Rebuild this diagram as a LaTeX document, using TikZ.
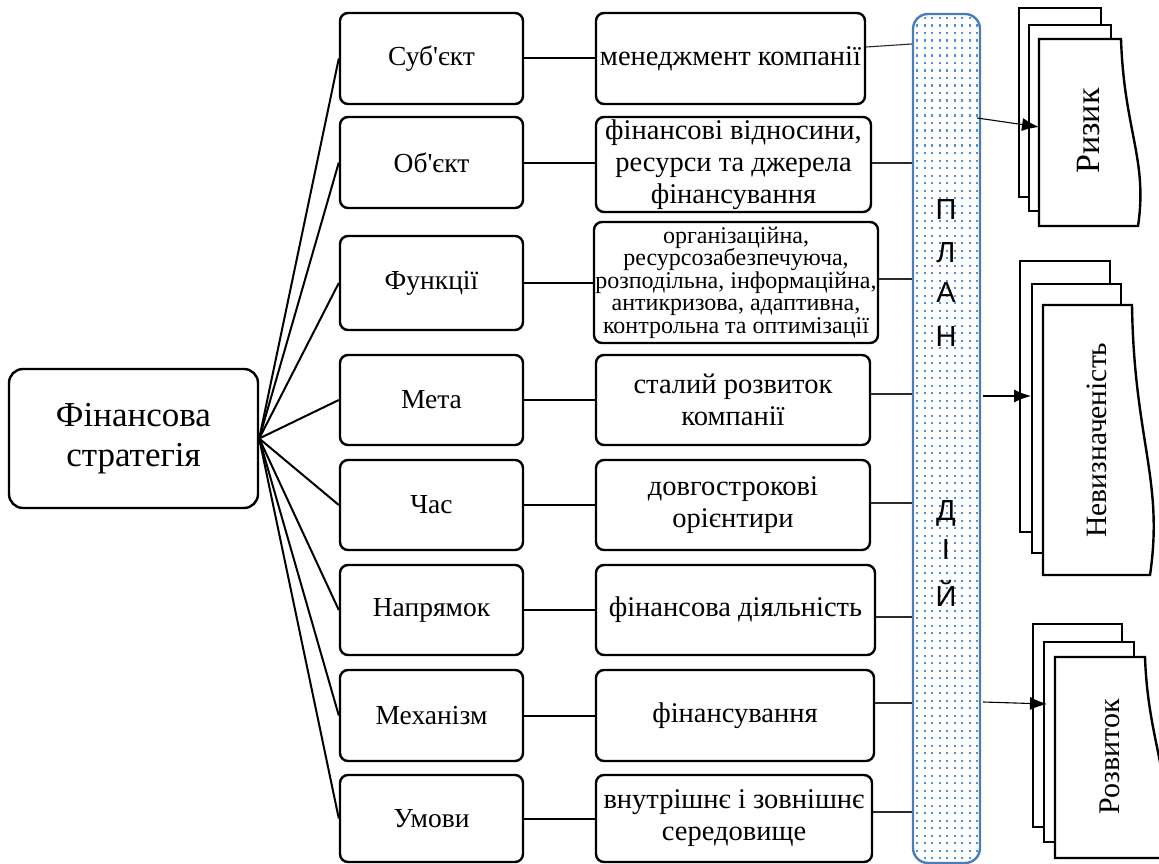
\documentclass[tikz,border=0pt]{standalone}
\usepackage{fontspec}
\setmainfont{Liberation Serif}[Ligatures=TeXOff]
\newfontfamily\plansans{Liberation Sans}
\usetikzlibrary{arrows.meta}
\definecolor{barblue}{HTML}{4A7DB5}
\definecolor{dotblue}{HTML}{4A93D8}
\definecolor{thinline}{HTML}{2A2A2A}
\begin{document}
\begin{tikzpicture}[x=1pt,y=-1pt,
  box/.style={draw, line width=2.4pt, rounded corners=8pt, align=center, inner sep=0pt, fill=white},
  lab/.style={font=\fontsize{27.5}{30}\selectfont},
  desc/.style={font=\fontsize{28.5}{32}\selectfont},
  fan/.style={line width=2pt},
  link/.style={line width=2pt},
  thin/.style={line width=1.1pt, draw=thinline},
  arr/.style={line width=1.1pt, -{Latex[length=17pt,width=13pt]}},
  page/.style={draw, line width=2.4pt, fill=white, line join=miter},
  letter/.style={font=\plansans\fontsize{29}{29}\selectfont, inner sep=0pt},
  pagetext/.style={font=\fontsize{34}{34}\selectfont, rotate=90, inner sep=0pt}
]
\useasboundingbox (0,0) rectangle (1159,864);

% main node
\node[box, rounded corners=14pt, minimum width=249pt, minimum height=139pt,
  font=\fontsize{35}{40}\selectfont] (fs) at (133.5,438.5) {Фінансова\\стратегія};

% column 2
\node[box, lab, minimum width=183pt, minimum height=91pt] (s1) at (431.5,58.5) {Суб'єкт};
\node[box, lab, minimum width=183pt, minimum height=91pt] (s2) at (431.5,162.5) {Об'єкт};
\node[box, lab, minimum width=183pt, minimum height=94pt] (s3) at (431.5,283) {Функції};
\node[box, lab, minimum width=183pt, minimum height=90pt] (s4) at (431.5,400) {Мета};
\node[box, lab, minimum width=183pt, minimum height=90pt] (s5) at (431.5,505) {Час};
\node[box, lab, minimum width=183pt, minimum height=90pt] (s6) at (431.5,610) {Напрямок};
\node[box, lab, minimum width=183pt, minimum height=91pt] (s7) at (431.5,715.5) {Механізм};
\node[box, lab, minimum width=183pt, minimum height=87pt] (s8) at (431.5,818.5) {Умови};

% column 3
\node[box, desc, minimum width=269pt, minimum height=91pt] (t1) at (730.5,58.5) {менеджмент компанії};
\node[box, desc, minimum width=275pt, minimum height=95pt] (t2) at (733.5,164.5) {фінансові відносини,\\ресурси та джерела\\фінансування};
\node[box, font=\fontsize{24}{22.5}\selectfont, minimum width=284pt, minimum height=121pt] (t3) at (736,282.5)
  {організаційна,\\ресурсозабезпечуюча,\\розподільна, інформаційна,\\антикризова, адаптивна,\\контрольна та оптимізації};
\node[box, desc, minimum width=274pt, minimum height=90pt] (t4) at (733,400) {сталий розвиток\\компанії};
\node[box, desc, minimum width=274pt, minimum height=90pt] (t5) at (733,505) {довгострокові\\орієнтири};
\node[box, desc, minimum width=279pt, minimum height=90pt] (t6) at (735.5,610) {фінансова діяльність};
\node[box, desc, minimum width=278pt, minimum height=91pt] (t7) at (735,715.5) {фінансування};
\node[box, desc, minimum width=276pt, minimum height=87pt] (t8) at (734,818.5) {внутрішнє і зовнішнє\\середовище};

% fan
\foreach \i in {1,...,8} {
  \draw[fan] (fs.east) -- (s\i.west);
  \draw[link] (s\i.east) -- (s\i.east -| t\i.west);
}

% plan bar
\begin{scope}
  \clip[rounded corners=15pt] (913,14) rectangle (980,863);
  \fill[white] (913,14) rectangle (980,863);
  \foreach \i in {0,...,8} {
    \foreach \j in {0,...,113} {
      \fill[dotblue] ({916+\i*7.5},{17+\j*7.5}) rectangle ++(2.1,2.1);
    }
  }
\end{scope}
\node[draw=barblue, line width=2.4pt, rounded corners=15pt, minimum width=67pt, minimum height=849pt, inner sep=0pt]
  (plan) at (946.5,438.5) {};

\node[letter] (p1) at (946,210) {П};
\node[letter] (p2) at (946,253) {Л};
\node[letter] (p3) at (946,293) {А};
\node[letter] (p4) at (946,337) {Н};
\node[letter] (p5) at (946,513) {Д};
\node[letter] (p6) at (946,550) {І};
\node[letter] (p7) at (946,593) {Й};

% links to plan
\coordinate (c1a) at (865,47);  \coordinate (c1b) at (913,44);
\coordinate (c2) at (0,163);
\coordinate (c3) at (0,279);
\coordinate (c4) at (0,394);
\coordinate (c5) at (0,503);
\coordinate (c6) at (0,617);
\coordinate (c7) at (0,703);
\coordinate (c8) at (0,812);
\draw[thin] (t1.east |- c1a) -- (plan.west |- c1b);
\foreach \i in {2,...,8} {
  \draw[thin] (t\i.east |- c\i) -- (plan.west |- c\i);
}

% Risk pages
\draw[page] (1019,8) rectangle (1101,197);
\draw[page] (1029,25) rectangle (1111,211);
\draw[page] (1039,39) -- (1121,39) .. controls (1124,130) and (1148,160) .. (1138,226) -- (1039,226) -- cycle;
\node[pagetext] (risk) at (1089,131) {Ризик};
\coordinate (riskin) at (1039,127);

% Uncertainty pages
\draw[page] (1020,261) rectangle (1110,532);
\draw[page] (1032,284) rectangle (1121,553);
\draw[page] (1043,305) -- (1132,305) .. controls (1134,440) and (1164,480) .. (1150,575) -- (1043,575) -- cycle;
\node[pagetext, font=\fontsize{29.5}{29.5}\selectfont] (unc) at (1097,440) {Невизначеність};
\coordinate (uncin) at (1031,396);

% Development pages
\draw[page] (1033,624) rectangle (1122,827);
\draw[page] (1044,642) rectangle (1134,842);
\draw[page] (1055,657) -- (1145,657) .. controls (1148,745) and (1175,780) .. (1165,858) -- (1055,858) -- cycle;
\node[pagetext, font=\fontsize{30}{30}\selectfont] (dev) at (1110,757) {Розвиток};
\coordinate (devin) at (1047,704);

% arrows
\coordinate (a1) at (0,118);
\coordinate (a2) at (0,396);
\coordinate (a3) at (0,702);
\draw[arr] ([xshift=-4pt]plan.east |- a1) -- (riskin);
\draw[arr] ([xshift=2pt]plan.east |- a2) -- (uncin);
\draw[arr] ([xshift=2pt]plan.east |- a3) -- (devin);
\end{tikzpicture}
\end{document}
